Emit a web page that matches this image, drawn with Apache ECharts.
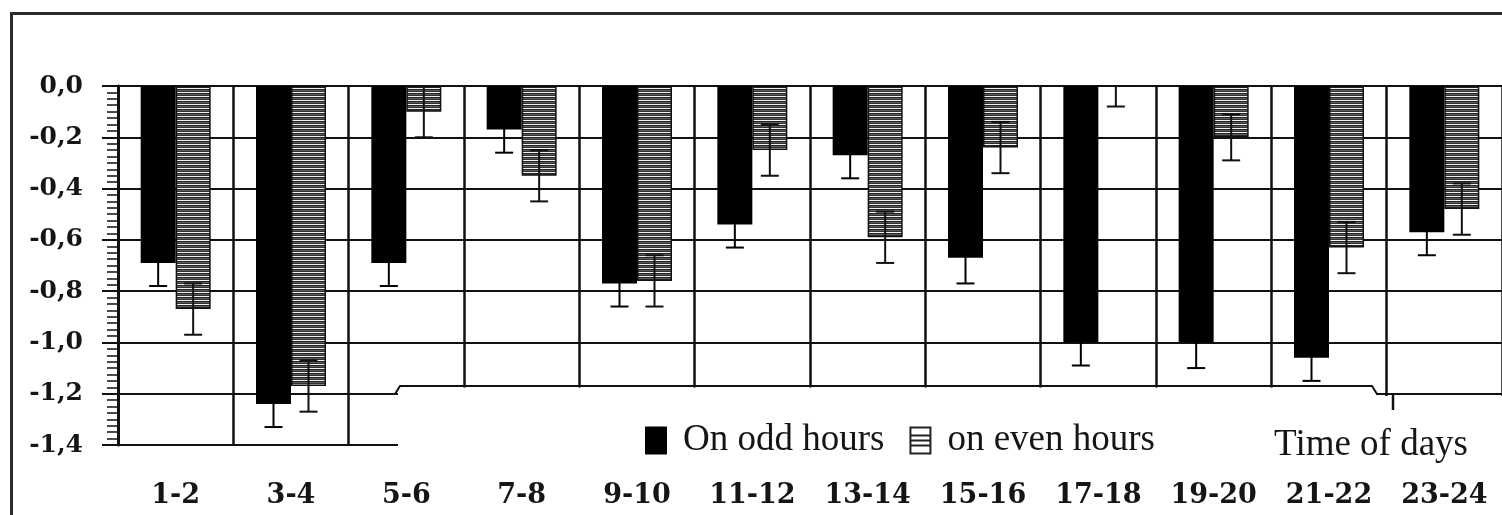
<!DOCTYPE html>
<html>
<head>
<meta charset="utf-8">
<script src="https://cdn.jsdelivr.net/npm/echarts@6/dist/echarts.min.js"></script>
<style>
  html, body { margin: 0; padding: 0; background: #ffffff; }
  #chart { width: 1502px; height: 515px; }
</style>
</head>
<body>
<div id="chart"></div>
<script>
// Two-hour time slots of the day
const categories = ['1-2', '3-4', '5-6', '7-8', '9-10', '11-12', '13-14', '15-16', '17-18', '19-20', '21-22', '23-24'];

// Mean change measured on odd hours, with its error
const oddHours  = [-0.69, -1.24, -0.69, -0.17, -0.77, -0.54, -0.27, -0.67, -1.00, -1.00, -1.06, -0.57];
const oddErrors = [0.09, 0.09, 0.09, 0.09, 0.09, 0.09, 0.09, 0.10, 0.09, 0.10, 0.09, 0.09];

// Mean change measured on even hours, with its error
const evenHours  = [-0.87, -1.17, -0.10, -0.35, -0.76, -0.25, -0.59, -0.24, 0.00, -0.20, -0.63, -0.48];
const evenErrors = [0.10, 0.10, 0.10, 0.10, 0.10, 0.10, 0.10, 0.10, 0.08, 0.09, 0.10, 0.10];

// Value axis tick labels (decimal comma), from 0 downwards
const yTickLabels = ['0,0', '-0,2', '-0,4', '-0,6', '-0,8', '-1,0', '-1,2', '-1,4'];

const seriesNames = ['On odd hours', 'on even hours'];
const axisTitle = 'Time of days';

// Horizontal hatching used for the even-hour bars
function stripePattern() {
  const c = document.createElement('canvas');
  c.width = 8; c.height = 4;
  const g = c.getContext('2d');
  const rows = ['#f2f2f2', '#222222', '#5e5e5e', '#303030'];
  rows.forEach((col, r) => { g.fillStyle = col; g.fillRect(0, r, 8, 1); });
  return c;
}

const BAR_W = 35;

// Whiskers drawn at the centre of each bar of a pair
function errorBars(name, values, errors, shift, color) {
  return {
    type: 'custom',
    name: name + ' error',
    xAxisIndex: 0,
    yAxisIndex: 0,
    clip: true,
    z: 3,
    data: values.map((v, i) => [i, v, errors[i]]),
    encode: { x: 0, y: 1 },
    renderItem(params, api) {
      const i = api.value(0), v = api.value(1), e = api.value(2);
      const hi = api.coord([i, v + e]);
      const lo = api.coord([i, v - e]);
      const x = hi[0] + shift;
      const st = { stroke: color, lineWidth: 2 };
      return {
        type: 'group',
        children: [
          { type: 'line', shape: { x1: x, y1: hi[1], x2: x, y2: lo[1] }, style: st },
          { type: 'line', shape: { x1: x - 9, y1: hi[1], x2: x + 9, y2: hi[1] }, style: st },
          { type: 'line', shape: { x1: x - 9, y1: lo[1], x2: x + 9, y2: lo[1] }, style: st }
        ]
      };
    }
  };
}

const chart = echarts.init(document.getElementById('chart'), null, { renderer: 'canvas' });

const stripedIcon = 'path://M0 0H22V2H0Z M0 26H22V28H0Z M0 0H2V28H0Z M20 0H22V28H20Z M0 8H22V10H0Z M0 13H22V15H0Z M0 18H22V20H0Z';

chart.setOption({
  animation: false,
  backgroundColor: '#ffffff',
  grid: { left: 118, right: -8, top: 86, bottom: 70, containLabel: false },
  legend: {
    z: 10,
    left: 645,
    top: 422,
    padding: 0,
    itemWidth: 22,
    itemHeight: 28,
    itemGap: 25,
    selectedMode: false,
    data: [
      { name: seriesNames[0], icon: 'rect', itemStyle: { color: '#000', borderWidth: 0 } },
      { name: seriesNames[1], icon: stripedIcon, itemStyle: { color: '#222', borderWidth: 0 } }
    ],
    textStyle: {
      fontFamily: 'Liberation Serif',
      fontSize: 37,
      color: '#151515',
      padding: [0, 0, 0, 11]
    }
  },
  xAxis: [
    {
      type: 'category',
      data: categories,
      position: 'bottom',
      z: 10,
      axisLine: { show: false, onZero: false },
      axisTick: { show: false },
      splitLine: { show: false },
      axisLabel: {
        interval: 0,
        margin: 37,
        fontFamily: 'DejaVu Serif',
        fontWeight: 'bold',
        fontSize: 27,
        color: '#151515'
      },
      name: axisTitle,
      nameLocation: 'end',
      nameGap: -34,
      nameTextStyle: {
        fontFamily: 'Liberation Serif',
        fontSize: 37,
        color: '#151515',
        align: 'right',
        verticalAlign: 'middle',
        padding: [0, 0, 16, 0]
      }
    },
    {
      type: 'category',
      data: categories,
      position: 'bottom',
      z: 0,
      axisLine: { show: false, onZero: false },
      axisTick: { show: false },
      axisLabel: { show: false },
      splitLine: { show: true, interval: 0, lineStyle: { color: '#111', width: 2.5 } }
    }
  ],
  yAxis: {
    type: 'value',
    min: -1.4,
    max: 0,
    interval: 0.2,
    axisLine: { show: true, lineStyle: { color: '#111', width: 3 } },
    axisTick: { show: true, length: 16, lineStyle: { color: '#111', width: 2 } },
    minorTick: { show: true, splitNumber: 8, length: 11, lineStyle: { color: '#111', width: 1.5 } },
    splitLine: { show: true, lineStyle: { color: '#111', width: 2 } },
    axisLabel: {
      margin: 35,
      formatter: v => yTickLabels[Math.round(-v / 0.2)],
      fontFamily: 'DejaVu Serif',
      fontWeight: 'bold',
      fontSize: 25,
      color: '#151515'
    }
  },
  series: [
    {
      name: seriesNames[0],
      type: 'bar',
      barWidth: BAR_W,
      barGap: '0%',
      z: 2,
      itemStyle: { color: '#000000' },
      data: oddHours
    },
    {
      name: seriesNames[1],
      type: 'bar',
      barWidth: BAR_W,
      barGap: '0%',
      z: 2,
      itemStyle: {
        color: { image: stripePattern(), repeat: 'repeat' },
        borderColor: '#111',
        borderWidth: 1.5
      },
      data: evenHours
    },
    errorBars(seriesNames[0], oddHours, oddErrors, -BAR_W / 2, '#000000'),
    errorBars(seriesNames[1], evenHours, evenErrors, BAR_W / 2, '#111111')
  ],
  graphic: [
    // outer frame of the figure
    { type: 'rect', z: 0, silent: true,
      shape: { x: 11.5, y: 13.5, width: 1700, height: 700 },
      style: { fill: 'transparent', stroke: '#2a2a2a', lineWidth: 3 } },
    // white panel holding the legend and axis title
    { type: 'rect', z: 5, silent: true,
      shape: { x: 398, y: 387.5, width: 978, height: 130 },
      style: { fill: '#ffffff' } },
    { type: 'rect', z: 5, silent: true,
      shape: { x: 1376, y: 396, width: 140, height: 125 },
      style: { fill: '#ffffff' } },
    { type: 'polyline', z: 6, silent: true,
      shape: { points: [[395, 394], [400, 386], [1372, 386], [1377, 394]] },
      style: { fill: 'transparent', stroke: '#111', lineWidth: 2 } },
    { type: 'line', z: 6, silent: true,
      shape: { x1: 1393, y1: 394, x2: 1393, y2: 410 },
      style: { stroke: '#111', lineWidth: 2.5 } }
  ]
});
</script>
</body>
</html>
